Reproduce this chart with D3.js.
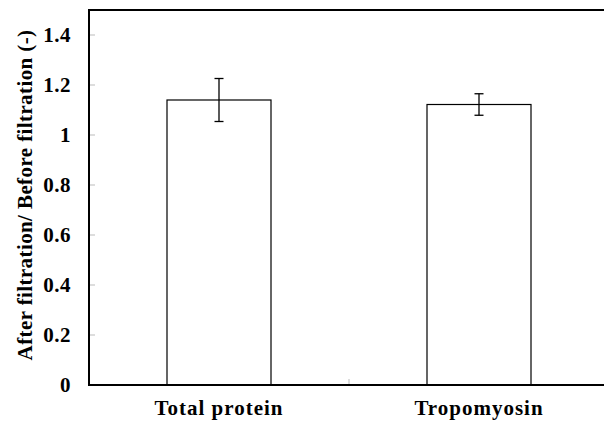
<!DOCTYPE html>
<html>
<head>
<meta charset="utf-8">
<script src="https://cdn.jsdelivr.net/npm/d3@7"></script>
<style>
  body { margin: 0; background: #fff; }
  text { font-family: "Liberation Serif", "Times New Roman", serif; font-weight: bold; }
</style>
</head>
<body>
<div id="chart"></div>
<script>
// data
const categories = ["Total protein", "Tropomyosin"];
const ratios = [1.14, 1.122];
const errors = [0.086, 0.043];
const yTicks = [0, 0.2, 0.4, 0.6, 0.8, 1, 1.2, 1.4];

const width = 604, height = 421;
const margin = {left: 89, right: -5, top: 10, bottom: 36};

const svg = d3.select("#chart").append("svg")
  .attr("width", width)
  .attr("height", height);

const x = d3.scaleBand()
  .domain(categories)
  .range([margin.left, width - margin.right])
  .paddingInner(0)
  .paddingOuter(0);

const y = d3.scaleLinear()
  .domain([0, 1.5])
  .range([height - margin.bottom, margin.top]);

// inward tick marks on y axis
svg.append("g")
  .selectAll("line")
  .data(yTicks.slice(1))
  .enter()
  .append("line")
  .attr("x1", margin.left)
  .attr("x2", margin.left + 6)
  .attr("y1", d => y(d))
  .attr("y2", d => y(d))
  .attr("stroke", "#bbb")
  .attr("stroke-width", 1);

// tick labels
svg.append("g")
  .selectAll("text")
  .data(yTicks)
  .enter()
  .append("text")
  .attr("x", 71)
  .attr("y", d => y(d))
  .attr("dy", "0.35em")
  .attr("text-anchor", "end")
  .style("font-size", "21px")
  .style("letter-spacing", "0.5px")
  .text(d => d);

// middle category tick
svg.append("line")
  .attr("x1", x(categories[1]))
  .attr("x2", x(categories[1]))
  .attr("y1", y(0))
  .attr("y2", y(0) - 6)
  .attr("stroke", "#bbb");

// bars
const barW = x.bandwidth() * 0.4;
svg.append("g")
  .selectAll("rect")
  .data(categories)
  .enter()
  .append("rect")
  .attr("x", d => x(d) + x.bandwidth() / 2 - barW / 2)
  .attr("y", (d, i) => y(ratios[i]))
  .attr("width", barW)
  .attr("height", (d, i) => y(0) - y(ratios[i]))
  .attr("fill", "#fff")
  .attr("stroke", "#000")
  .attr("stroke-width", 1.2);

// error bars
const eb = svg.append("g").attr("stroke", "#000").attr("stroke-width", 1.3);
categories.forEach((c, i) => {
  const cx = x(c) + x.bandwidth() / 2;
  const hi = y(ratios[i] + errors[i]), lo = y(ratios[i] - errors[i]);
  eb.append("line").attr("x1", cx).attr("x2", cx).attr("y1", hi).attr("y2", lo);
  eb.append("line").attr("x1", cx - 4.5).attr("x2", cx + 4.5).attr("y1", hi).attr("y2", hi);
  eb.append("line").attr("x1", cx - 4.5).attr("x2", cx + 4.5).attr("y1", lo).attr("y2", lo);
});

// frame
svg.append("rect")
  .attr("x", margin.left)
  .attr("y", margin.top)
  .attr("width", width - margin.right - margin.left)
  .attr("height", y(0) - margin.top)
  .attr("fill", "none")
  .attr("stroke", "#000")
  .attr("stroke-width", 2);

// category labels
svg.append("g")
  .selectAll("text")
  .data(categories)
  .enter()
  .append("text")
  .attr("x", d => x(d) + x.bandwidth() / 2)
  .attr("y", 415)
  .attr("text-anchor", "middle")
  .style("font-size", "21px")
  .style("letter-spacing", "1px")
  .text(d => d);

// y title
svg.append("text")
  .attr("transform", "translate(32,195) rotate(-90)")
  .attr("text-anchor", "middle")
  .style("font-size", "21px")
  .style("letter-spacing", "0.4px")
  .text("After filtration/ Before filtration (-)");
</script>
</body>
</html>
